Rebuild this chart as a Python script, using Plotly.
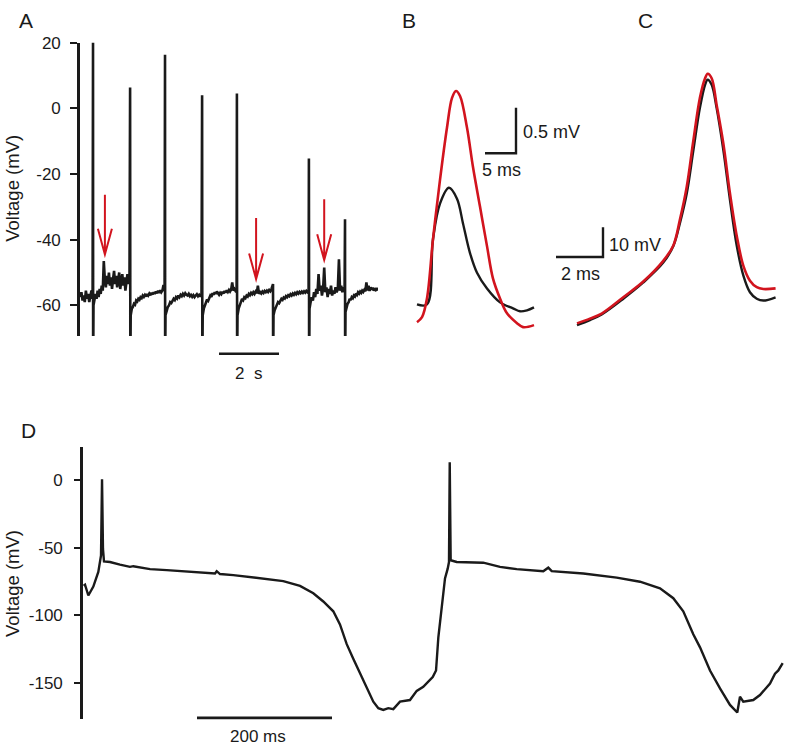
import numpy as np
import plotly.graph_objects as go

W, H = 786, 746
BLACK = "#1a1a1a"
RED = "#d2141e"
FONT = "Liberation Sans, Arial, sans-serif"

# ---------------- Panel A data (time in s, voltage in mV) ----------------
A_spike_t = [0.43, 1.67, 2.83, 4.07, 5.23, 6.43, 7.63, 8.83]
A_spike_peak = [20.0, 6.3, 16.3, 4.0, 4.5, -53.5, -15.3, -33.8]
A_spike_trough = -80.0   # off-scale (clipped by the axis)
A_seg_bounds = [(0.01, 0.42), (0.45, 1.65), (1.69, 2.82), (2.85, 4.05), (4.09, 5.22),
                (5.25, 6.42), (6.45, 7.62), (7.65, 8.82), (8.85, 9.93)]
A_seg0 = [-57.5, -56, -58.5, -57, -59, -55.5, -58, -56.5, -59, -57, -55.5, -58]
A_seg1 = [-60, -58, -56.5, -58, -55.5, -57.5, -55, -56.5, -54, -55.5, -46.5, -52, -54.5, -51,
          -53.5, -50, -54, -51.5, -55, -52, -49.5, -53.5, -51, -54.5, -52, -50, -55, -52.5,
          -50.5, -54, -51.5, -55.5, -52, -50.5, -53.5, -51]
A_seg2 = [-63, -61, -60.5, -59.5, -59.8, -58.5, -58.8, -58, -58.3, -57.5, -57.8, -57, -57.4,
          -56.8, -57.3, -56.5, -57, -56.4, -56.9, -56.2, -56.7, -56, -56.5, -55.8, -56.3,
          -55.6, -56.2, -55.4, -56, -55.5, -53.8, -55.6]
A_seg3 = [-63, -61.5, -60.5, -60, -59, -59.3, -58.5, -58, -58.4, -57.5, -57.9, -57, -57.5,
          -56.8, -57.2, -56.5, -57, -56.3, -56.8, -57, -56.5, -57.2, -56.8, -57.4, -56.9,
          -57.5, -57, -56.6, -57.2, -56.8, -57.3, -56.5]
A_seg4 = [-63, -61, -60, -59, -58.2, -58.6, -57.5, -57, -57.4, -56.3, -56.8, -56, -56.5,
          -55.8, -56.3, -56.8, -56.2, -56.6, -55.9, -56.4, -55.6, -56.1, -55.4, -55.9, -55.3,
          -55.8, -55.2, -53, -55.5, -55, -55.6, -55.3]
A_seg5 = [-63, -61, -59.5, -59, -58, -58.4, -57.5, -57.8, -57, -57.3, -56.5, -56.9, -56.2,
          -56.6, -56, -56.5, -55.8, -56.3, -54, -56.5, -56, -56.4, -55.8, -56.2, -55.6, -56,
          -55.5, -55.9, -55.3, -55.7, -55, -53.5]
A_seg6 = [-63, -61.5, -60.5, -59.8, -59, -59.3, -58.5, -58, -58.3, -57.6, -57.9, -57.2,
          -57.5, -56.9, -57.2, -56.6, -57, -56.4, -56.8, -56.2, -56.6, -56, -56.4, -55.9,
          -56.3, -55.8, -56.2, -55.7, -56.1, -55.6, -56, -55.8]
A_seg7 = [-61, -59, -57.5, -58.5, -56, -57.5, -55, -56.5, -50.5, -55.5, -54, -57, -55, -48.5,
          -56, -54.5, -57.5, -55, -56.5, -54, -57, -55.5, -56.5, -54.5, -56, -55, -46, -55.5,
          -54, -56, -54.5, -55]
A_seg8 = [-62, -60.5, -59.5, -59, -58, -58.4, -57.5, -57.8, -57, -57.3, -56.4, -56.8, -56,
          -56.4, -55.8, -56.2, -55.5, -55.9, -55.3, -55.7, -53, -55.5, -54, -55.6, -54.5,
          -55.2, -54.6, -55.5, -54.8, -55.3, -55, -55.5]
A_segs = [A_seg0, A_seg1, A_seg2, A_seg3, A_seg4, A_seg5, A_seg6, A_seg7, A_seg8]
A_ticks = [-60, -40, -20, 0, 20]

# red arrows in panel A
A_arrow_t = [0.83, 5.87, 8.14]
A_arrow_top = [-26.3, -33.4, -27.7]
A_arrow_tip = [-44.5, -52.0, -46.2]

# ---------------- Panel B data (ms, mV) ----------------
B_black_t = [0, 1.61, 2.58, 3.71, 5.16, 6.45, 7.42, 8.55, 9.68, 11.29, 13.39, 15.48, 16.61, 17.74, 18.87]
B_black_v = [0, 0, 0.717, 1.109, 1.283, 1.163, 0.891, 0.565, 0.348, 0.174, 0.022, -0.043, -0.076, -0.065, -0.033]
B_red_t = [0, 0.81, 1.61, 2.58, 3.71, 4.84, 5.65, 6.29, 6.94, 8.06, 9.03, 10.16, 11.29, 12.26, 13.39, 14.52, 16.13, 17.10, 18.87]
B_red_v = [-0.196, -0.141, 0.065, 0.717, 1.370, 1.946, 2.272, 2.348, 2.293, 1.946, 1.511, 1.076, 0.641, 0.283, 0.065, -0.098, -0.207, -0.250, -0.228]

# ---------------- Panel C data (ms, mV) ----------------
C_t = [0, 0.55, 1.05, 1.97, 2.82, 3.67, 4.10, 4.38, 4.67, 4.95, 5.23, 5.45, 5.56, 5.73, 5.94,
       6.23, 6.51, 6.80, 7.08, 7.36, 7.65, 7.93, 8.45]
C_black_v = [-60, -58.3, -56.4, -51.1, -45.6, -38.9, -33.3, -25.6, -15.6, -1.1, 13.3, 21.1, 22.8,
             21.1, 13.3, -1.1, -17.8, -33.3, -43.3, -48.9, -51.1, -51.7, -50.6]
C_red_v = [-59.4, -57.8, -56.1, -50.6, -45.3, -38.3, -33.1, -24.4, -13.3, 2.2, 16.7, 23.3, 24.8,
           23.3, 14.4, 1.1, -15.6, -30, -40, -45, -47.2, -47.8, -47.6]

# ---------------- Panel D data (ms, mV) ----------------
D_t = [1.0, 3.0, 7.9, 15.3, 22.7, 26.7, 28.2, 29.6, 31.1, 40.0, 54.8, 69.6, 74.5, 99.3, 124.0, 173.3,
       195.6, 198.1, 203.0, 222.7, 272.1, 296.7, 321.5, 341.2, 356.0, 370.8, 380.7, 390.7, 400.4,
       410.4, 420.3, 430.1, 437.5, 444.9, 452.3, 459.7, 469.6, 484.4, 494.4, 504.1, 518.1, 523.0,
       526.4, 531.4, 536.3, 540.3, 542.2, 543.3, 544.7, 553.6, 593.0, 617.8, 642.5, 681.9, 689.3,
       694.4, 741.2, 790.7, 825.2, 854.8, 874.5, 889.3, 904.1, 914.1, 928.9, 943.7, 958.5, 969.3,
       973.3, 978.2, 993.0, 1002.9, 1017.8, 1025.2, 1030.1, 1036.6]
D_v = [-78.0, -77.2, -85.2, -78.6, -67.7, -55.5, 0.9, -50.7, -59.9, -60.4, -62.3, -64.0, -63.5, -65.7,
       -66.4, -68.2, -68.9, -67.2, -69.3, -70.1, -73.0, -74.5, -78.1, -83.5, -89.6, -96.9, -106.6,
       -121.2, -132.1, -143.1, -152.8, -163.8, -168.6, -169.9, -168.6, -169.3, -163.8, -162.6,
       -155.8, -152.8, -145.5, -140.7, -116.4, -92.0, -72.6, -65.3, -60.4, 13.4, -59.1, -60.4,
       -60.9, -64.0, -65.7, -67.2, -64.6, -67.2, -68.9, -72.0, -75.0, -79.9, -87.2, -96.9, -113.9,
       -123.6, -140.7, -154.0, -166.2, -171.8, -160.1, -163.8, -162.6, -158.9, -150.4, -143.1,
       -140.7, -135.3]
D_ticks = [-150, -100, -50, 0]

# scale bars
SB_A_s = 2.0
SB_B_ms, SB_B_mV = 5.0, 0.5
SB_C_ms, SB_C_mV = 2.0, 10.0
SB_D_ms = 200.0

# ---------------- build panel A trace ----------------
A_t, A_v = [], []
for i, seg in enumerate(A_segs):
    t0, t1 = A_seg_bounds[i]
    A_t += list(np.linspace(t0, t1, len(seg)))
    A_v += seg
    if i < len(A_spike_t):
        ts = A_spike_t[i]
        A_t += [ts, ts + 0.004, ts + 0.008]
        A_v += [A_spike_peak[i], A_spike_peak[i], A_spike_trough]


def px_x(p):
    return p / W


def px_y(p):
    return 1 - p / H


fig = go.Figure()
fig.add_trace(go.Scatter(x=A_t, y=A_v, mode="lines", line=dict(color=BLACK, width=2.6),
                         xaxis="x", yaxis="y", hoverinfo="skip"))
fig.add_trace(go.Scatter(x=B_black_t, y=B_black_v, mode="lines", line=dict(color=BLACK, width=2.4, shape="spline"),
                         xaxis="x2", yaxis="y2"))
fig.add_trace(go.Scatter(x=B_red_t, y=B_red_v, mode="lines", line=dict(color=RED, width=2.6, shape="spline"),
                         xaxis="x2", yaxis="y2"))
fig.add_trace(go.Scatter(x=C_t, y=C_black_v, mode="lines", line=dict(color=BLACK, width=2.4, shape="spline"),
                         xaxis="x3", yaxis="y3"))
fig.add_trace(go.Scatter(x=C_t, y=C_red_v, mode="lines", line=dict(color=RED, width=2.6, shape="spline"),
                         xaxis="x3", yaxis="y3"))
fig.add_trace(go.Scatter(x=D_t, y=D_v, mode="lines", line=dict(color=BLACK, width=2.4),
                         xaxis="x4", yaxis="y4"))

tickfont = dict(family=FONT, size=17, color=BLACK)
hidden = dict(visible=False, showgrid=False, zeroline=False)

fig.update_layout(
    xaxis=dict(domain=[px_x(80), px_x(378)], range=[0, 298 / 30], anchor="y", **hidden),
    yaxis=dict(domain=[px_y(331), px_y(34)], range=[-60 - 31 / 3.325, 20], anchor="x",
               showline=True, linecolor=BLACK, linewidth=2.6, ticks="outside", ticklen=7,
               tickwidth=2.2, tickcolor=BLACK, tickvals=A_ticks,
               ticktext=[str(v) for v in A_ticks], tickfont=tickfont,
               showgrid=False, zeroline=False, ticklabelstandoff=6),
    xaxis2=dict(domain=[px_x(405), px_x(545)], range=[(405 - 417) / 6.2, (545 - 417) / 6.2], anchor="y2", **hidden),
    yaxis2=dict(domain=[px_y(335), px_y(60)], range=[(299 - 335) / 92, (299 - 60) / 92], anchor="x2", **hidden),
    xaxis3=dict(domain=[px_x(545), px_x(786)], range=[(545 - 577) / 23.5, (786 - 577) / 23.5], anchor="y3", **hidden),
    yaxis3=dict(domain=[px_y(335), px_y(50)], range=[-60 - 15 / 3, -60 + 270 / 3], anchor="x3", **hidden),
    xaxis4=dict(domain=[px_x(83), 1.0], range=[0, 703 * 200 / 135], anchor="y4", **hidden),
    yaxis4=dict(domain=[px_y(718.5), px_y(443)], range=[-176.5, 25], anchor="x4",
                showline=True, linecolor=BLACK, linewidth=2.6, ticks="outside", ticklen=6,
                tickwidth=2.2, tickcolor=BLACK, tickvals=D_ticks,
                ticktext=[str(v) for v in D_ticks], tickfont=tickfont,
                showgrid=False, zeroline=False, ticklabelstandoff=8),
)

shapes = []
# red arrows (panel A)
dx, dy = 7 / 30, 26 / 3.325
for t, top, tip in zip(A_arrow_t, A_arrow_top, A_arrow_tip):
    shapes.append(dict(type="path", xref="x", yref="y",
                       path=f"M{t},{top} L{t},{tip} M{t - dx},{tip + dy} L{t},{tip} L{t + dx},{tip + dy}",
                       line=dict(color=RED, width=2)))
# scale bar A (below trace)
sbA_t0 = (219 - 80) / 30
shapes.append(dict(type="line", xref="x", yref="paper", x0=sbA_t0, x1=sbA_t0 + SB_A_s,
                   y0=px_y(349), y1=px_y(349), line=dict(color=BLACK, width=2.6)))
# scale bar B
bx, by = (516 - 417) / 6.2, (299 - 146) / 92
shapes.append(dict(type="path", xref="x2", yref="y2",
                   path=f"M{bx - SB_B_ms},{by} L{bx},{by} L{bx},{by + SB_B_mV}",
                   line=dict(color=BLACK, width=2.4)))
# scale bar C
cx, cy = (603 - 577) / 23.5, -60 + (320 - 251) / 3
shapes.append(dict(type="path", xref="x3", yref="y3",
                   path=f"M{cx - SB_C_ms},{cy} L{cx},{cy} L{cx},{cy + SB_C_mV}",
                   line=dict(color=BLACK, width=2.4)))
# scale bar D
dx0 = (197 - 83) * 200 / 135
shapes.append(dict(type="line", xref="x4", yref="paper", x0=dx0, x1=dx0 + SB_D_ms,
                   y0=px_y(717.5), y1=px_y(717.5), line=dict(color=BLACK, width=2.6)))

ann = []


def label(text, x, y, size=16, xanchor="center", angle=0):
    ann.append(dict(text=text, x=px_x(x), y=px_y(y), xref="paper", yref="paper", showarrow=False,
                    xanchor=xanchor, yanchor="middle", textangle=angle,
                    font=dict(family=FONT, size=size, color=BLACK)))


label("A", 26, 12, size=21)
label("B", 409, 12, size=21)
label("C", 645, 12, size=21)
label("D", 28, 427, size=21)
label("Voltage (mV)", 13, 182, size=18.5, angle=-90)
label("Voltage (mV)", 13, 582, size=18.5, angle=-90)
label("2\u00a0\u00a0s", 249, 369, size=17)
label("0.5 mV", 521, 124, size=18, xanchor="left")
label("5 ms", 501, 163, size=18)
label("10 mV", 607, 239, size=18, xanchor="left")
label("2 ms", 580, 268, size=18)
label("200 ms", 258, 736, size=17)

fig.update_layout(width=W, height=H, autosize=False, margin=dict(l=0, r=0, t=0, b=0),
                  paper_bgcolor="white", plot_bgcolor="white", showlegend=False,
                  shapes=shapes, annotations=ann)

fig.write_html("out.html", config={"displayModeBar": False},
               post_script="document.body.style.margin='0';document.body.style.padding='0';"
                           "document.body.style.overflow='hidden';")
